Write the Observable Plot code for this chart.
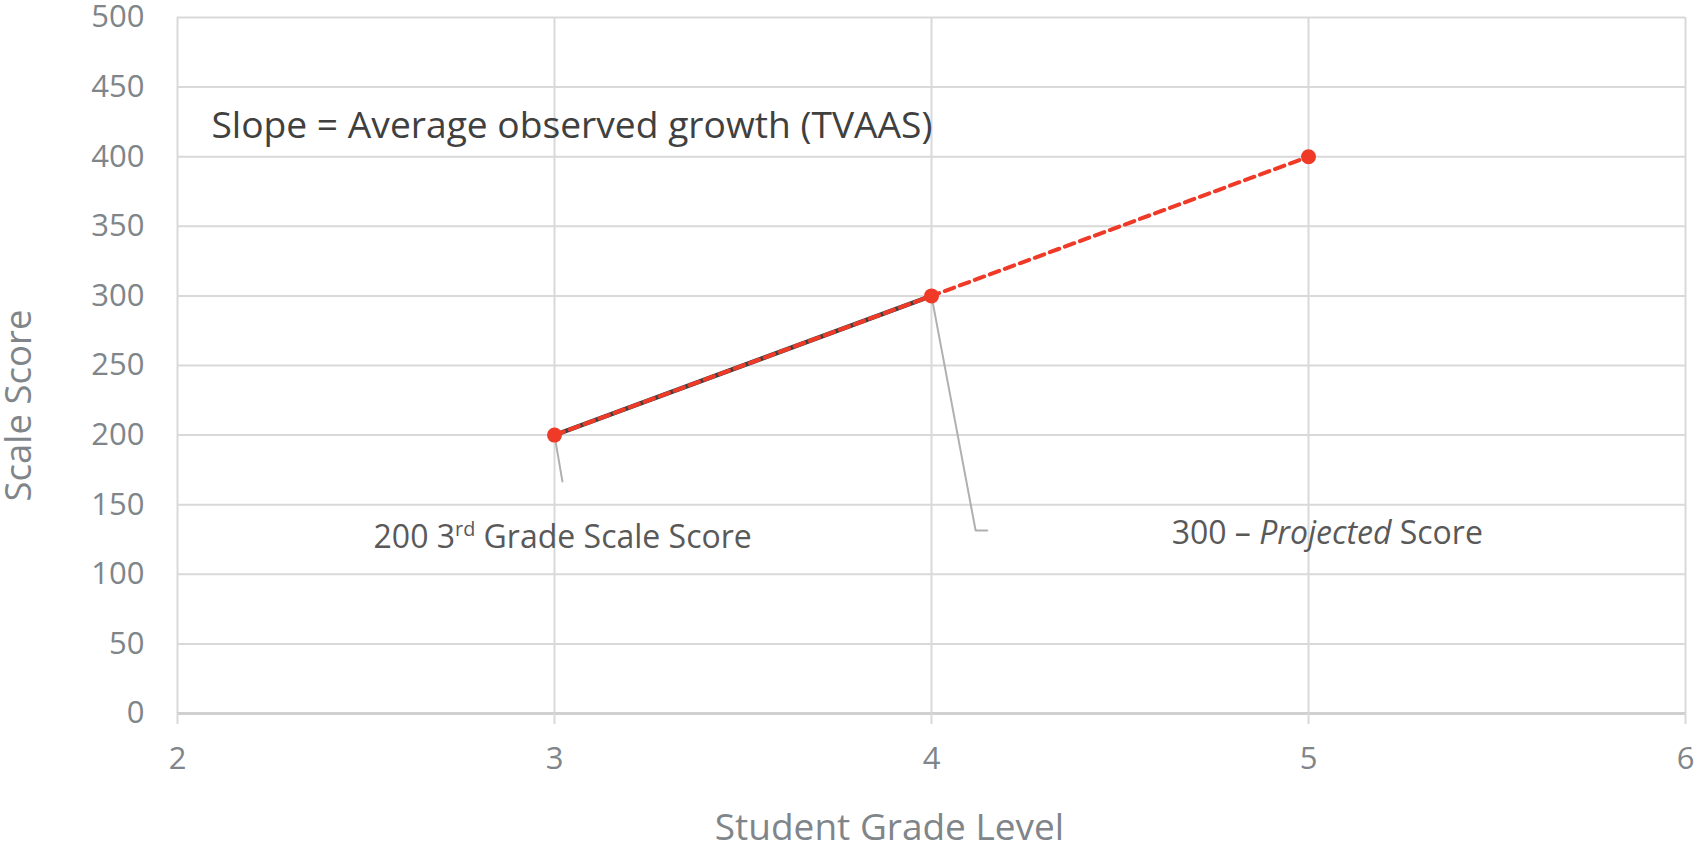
<!DOCTYPE html>
<html>
<head>
<meta charset="utf-8">
<script src="https://cdn.jsdelivr.net/npm/d3@7"></script>
<script src="https://cdn.jsdelivr.net/npm/@observablehq/plot@0.6"></script>
<style>
  html, body { margin: 0; padding: 0; background: #fff; }
  #chart { width: 1695px; height: 848px; }
</style>
</head>
<body>
<div id="chart"></div>
<script>
// ---- data ----
const grades = [3, 4, 5];
const scores = [200, 300, 400];
const observedGrades = [3, 4];
const observedScores = [200, 300];
const xTicks = [2, 3, 4, 5, 6];
const yTicks = [0, 50, 100, 150, 200, 250, 300, 350, 400, 450, 500];
const annotationTexts = ["Slope = Average observed growth (TVAAS)", "200 3rd Grade Scale Score", "300 – Projected Score"];
const annotationX = [2.09, 2.52, 4.637];
const annotationY = [421.7, 126.4, 129.3];
const leader1X = [3, 3.021];
const leader1Y = [200, 166.7];
const leader2X = [4, 4.117, 4.148];
const leader2Y = [300, 131.5, 131.5];
const xTitle = "Student Grade Level";
const yTitle = "Scale Score";

const pts = grades.map((g, i) => ({x: g, y: scores[i]}));
const obs = observedGrades.map((g, i) => ({x: g, y: observedScores[i]}));
const ann = annotationTexts.map((t, i) => ({text: t, x: annotationX[i], y: annotationY[i], i}));
const l1 = leader1X.map((x, i) => ({x, y: leader1Y[i]}));
const l2 = leader2X.map((x, i) => ({x, y: leader2Y[i]}));

const grid = "#d9d9d9";
const tickColor = "#80858a";
const red = "#ef3a28";

const plot = Plot.plot({
  width: 1695,
  height: 848,
  marginLeft: 177,
  marginRight: 10,
  marginTop: 17,
  marginBottom: 135,
  style: {fontFamily: "'Open Sans', sans-serif", background: "#fff"},
  x: {domain: [2, 6], ticks: xTicks, label: null},
  y: {domain: [0, 500], ticks: yTicks, label: null},
  marks: [
    Plot.ruleY(yTicks.filter(d => d > 0), {stroke: grid, strokeWidth: 2}),
    Plot.ruleX(xTicks.filter(d => d > 2), {stroke: grid, strokeWidth: 2}),
    Plot.ruleX([2], {stroke: grid, strokeWidth: 2}),
    Plot.ruleY([0], {stroke: "#d0d0d0", strokeWidth: 3}),
    Plot.axisY({ticks: yTicks, tickSize: 0, tickPadding: 33, fontSize: 31, fill: tickColor, label: null, tickFormat: d3.format("d")}),
    Plot.axisX({ticks: xTicks, tickSize: 11, stroke: grid, strokeWidth: 2, tickPadding: 22, fontSize: 31, fill: tickColor, label: null, tickFormat: d3.format("d")}),
    Plot.text([xTitle], {frameAnchor: "bottom", dy: 115, dx: -42, fontSize: 37, fill: tickColor, textAnchor: "middle", lineAnchor: "middle"}),
    Plot.text([yTitle], {frameAnchor: "left", dx: -158, dy: 40, rotate: -90, fontSize: 36.5, fill: tickColor, textAnchor: "middle", lineAnchor: "middle"}),
    Plot.line(l1, {x: "x", y: "y", stroke: "#b0b0b0", strokeWidth: 2}),
    Plot.line(l2, {x: "x", y: "y", stroke: "#b0b0b0", strokeWidth: 2}),
    Plot.line(obs, {x: "x", y: "y", stroke: "#404040", strokeWidth: 4.5}),
    Plot.line(pts, {x: "x", y: "y", stroke: red, strokeWidth: 4, strokeDasharray: "10,6"}),
    Plot.dot(pts, {x: "x", y: "y", r: 7.5, fill: red}),
    Plot.text(ann, {x: "x", y: "y", text: "text", textAnchor: "start", lineAnchor: "middle",
      fontSize: d => d.i === 0 ? 37.2 : 32, fill: d => d.i === 0 ? "#404040" : "#595959"})
  ]
});

document.getElementById("chart").appendChild(plot);

// rich text: superscript and italic
d3.select(plot).selectAll("text").each(function() {
  const t = this.textContent;
  const sel = d3.select(this);
  if (t === "200 3rd Grade Scale Score") {
    sel.text(null);
    sel.append("tspan").text("200 3");
    sel.append("tspan").attr("font-size", "0.62em").attr("dy", "-0.6em").text("rd");
    sel.append("tspan").attr("dy", "0.372em").text(" Grade Scale Score");
  } else if (t === "300 – Projected Score") {
    sel.text(null);
    sel.append("tspan").text("300 – ");
    sel.append("tspan").attr("font-style", "italic").text("Projected");
    sel.append("tspan").text(" Score");
  }
});
</script>
</body>
</html>
